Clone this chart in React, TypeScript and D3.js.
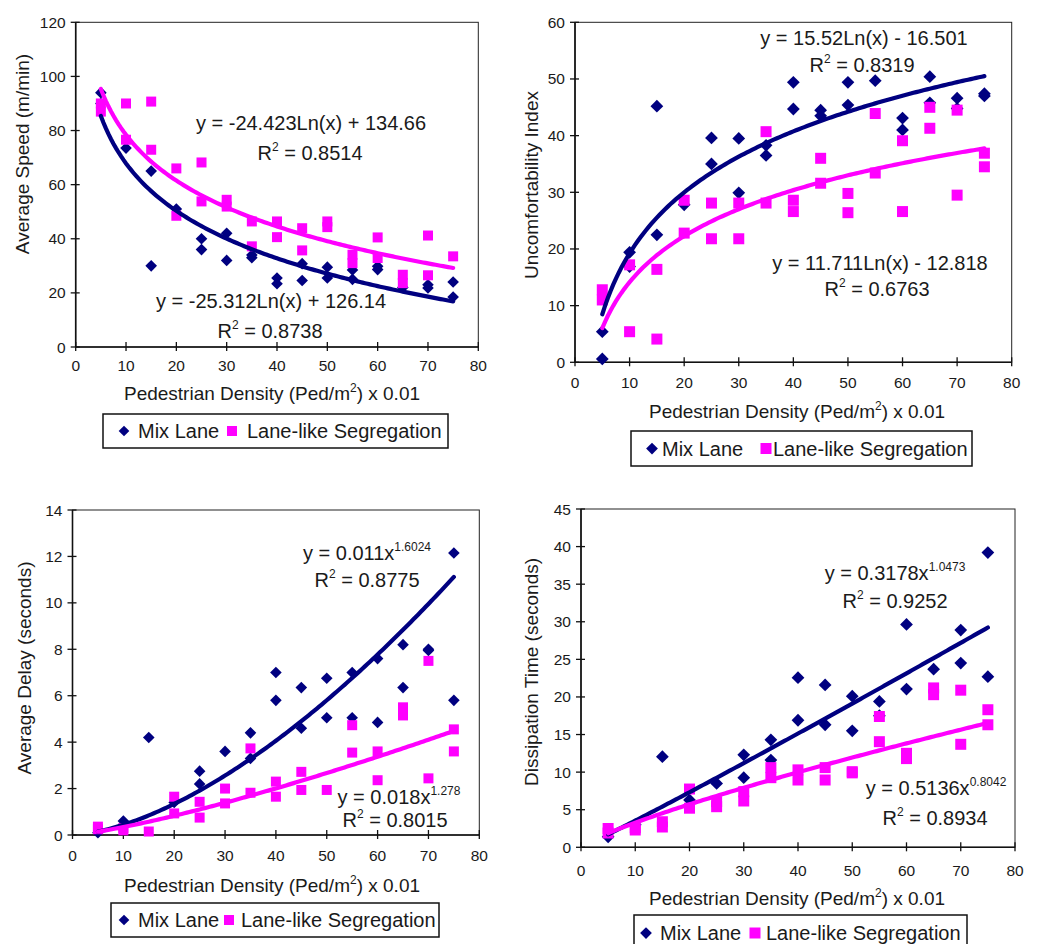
import React from "react";
import * as d3 from "d3";

type Pt = [number, number];

const densityTicks = [0, 10, 20, 30, 40, 50, 60, 70, 80];
const seriesNames = ["Mix Lane", "Lane-like Segregation"];

// Panel 1: Average speed
const speedTicks = [0, 20, 40, 60, 80, 100, 120];
const speedMix: Pt[] = [[5,94],[5,90],[10,73.5],[15,65],[15,30],[20,51],[25,40],[25,36],[30,42],[30,32],[35,34],[35,33],[40,25.5],[40,23.4],[45,30.8],[45,24.6],[50,29.5],[50,25.5],[55,28.5],[55,25],[60,29.8],[60,28.6],[65,22],[70,23],[70,21.8],[75,24],[75,18.5]];
const speedSeg: Pt[] = [[5,90],[5,87],[10,90],[10,76.6],[15,90.7],[15,72.9],[20,66],[20,48.5],[25,68.2],[25,53.8],[30,54.4],[30,51.9],[35,46.4],[35,37.2],[40,46.4],[40,40.6],[45,43.9],[45,35.7],[50,46.4],[50,44.3],[55,34.1],[55,31],[60,40.5],[60,32.9],[65,26.7],[65,23.6],[70,41.2],[70,26.5],[75,33.5]];
const speedMixFit = { kind: "log", a: -25.312, b: 126.14, eq: "y = -25.312Ln(x) + 126.14", r2: "0.8738" };
const speedSegFit = { kind: "log", a: -24.423, b: 134.66, eq: "y = -24.423Ln(x) + 134.66", r2: "0.8514" };

// Panel 2: Uncomfortability index
const comfortTicks = [0, 10, 20, 30, 40, 50, 60];
const comfortMix: Pt[] = [[5,5.4],[5,0.6],[10,19.4],[10,16.9],[15,45.2],[15,22.5],[20,27.8],[25,39.6],[25,35],[30,39.5],[30,29.9],[35,38.3],[35,36.5],[40,49.4],[40,44.7],[45,44.5],[45,43.5],[50,49.4],[50,45.4],[55,49.7],[60,43.1],[60,41],[65,50.4],[65,45.8],[70,46.6],[70,44.8],[75,47.4],[75,47]];
const comfortSeg: Pt[] = [[5,12.8],[5,11],[10,5.4],[10,17.2],[15,4.1],[15,16.4],[20,28.6],[20,22.8],[25,28.1],[25,21.8],[30,28.1],[30,21.8],[35,40.7],[35,28.1],[40,28.6],[40,26.6],[45,36],[45,31.6],[50,29.8],[50,26.4],[55,43.9],[55,33.4],[60,39.1],[60,26.6],[65,45],[65,41.3],[70,44.5],[70,29.5],[75,36.9],[75,34.5]];
const comfortMixFit = { kind: "log", a: 15.52, b: -16.501, eq: "y = 15.52Ln(x) - 16.501", r2: "0.8319" };
const comfortSegFit = { kind: "log", a: 11.711, b: -12.818, eq: "y = 11.711Ln(x) - 12.818", r2: "0.6763" };

// Panel 3: Average delay
const delayTicks = [0, 2, 4, 6, 8, 10, 12, 14];
const delayMix: Pt[] = [[5,0.1],[10,0.6],[15,4.2],[20,1.4],[25,2.75],[25,2.2],[30,3.6],[35,4.4],[35,3.3],[40,7],[40,5.8],[45,6.35],[45,4.6],[50,6.75],[50,5.05],[55,7],[55,5.05],[60,7.6],[60,4.85],[65,8.2],[65,6.35],[70,8],[70,7.95],[75,12.15],[75,5.8]];
const delaySeg: Pt[] = [[5,0.36],[5,0.25],[10,0.3],[10,0.2],[15,0.15],[20,1.65],[20,0.93],[25,1.43],[25,0.75],[30,2],[30,1.36],[35,3.73],[35,1.82],[40,2.3],[40,1.65],[45,2.72],[45,1.94],[50,1.94],[55,4.73],[55,3.55],[60,3.6],[60,2.36],[65,5.5],[65,5.15],[70,7.5],[70,2.44],[75,4.55],[75,3.6]];
const delayMixFit = { kind: "pow", a: 0.011, b: 1.6024, eq: "y = 0.011x", exp: "1.6024", r2: "0.8775" };
const delaySegFit = { kind: "pow", a: 0.018, b: 1.278, eq: "y = 0.018x", exp: "1.278", r2: "0.8015" };

// Panel 4: Dissipation time
const dissTicks = [0, 5, 10, 15, 20, 25, 30, 35, 40, 45];
const dissMix: Pt[] = [[5,1.4],[10,3],[15,12.06],[20,6.3],[25,8.5],[30,12.3],[30,9.26],[35,14.3],[35,11.6],[40,22.56],[40,16.9],[45,21.6],[45,16.3],[50,20.1],[50,15.5],[55,19.4],[55,17.5],[60,29.65],[60,21.05],[65,23.7],[70,28.9],[70,24.5],[75,39.2],[75,22.7]];
const dissSeg: Pt[] = [[5,2.5],[5,1.9],[10,2.6],[10,2.3],[15,3.4],[15,2.7],[20,7.75],[20,5.2],[25,6.07],[25,5.4],[30,7.4],[30,6.16],[35,10.6],[35,9.26],[40,10.3],[40,8.95],[45,10.6],[45,8.95],[50,10.06],[50,9.9],[55,17.4],[55,14.05],[60,12.5],[60,11.8],[65,21.2],[65,20.3],[70,20.9],[70,13.7],[75,18.3],[75,16.3]];
const dissMixFit = { kind: "pow", a: 0.3178, b: 1.0473, eq: "y = 0.3178x", exp: "1.0473", r2: "0.9252" };
const dissSegFit = { kind: "pow", a: 0.5136, b: 0.8042, eq: "y = 0.5136x", exp: "0.8042", r2: "0.8934" };

const NAVY = "#000080";
const MAGENTA = "#FF00FF";
const FONT = "'Liberation Sans', Arial, Helvetica, sans-serif";
const TEXT = "#1a1a1a";

type Fit = { kind: string; a: number; b: number; eq: string; exp?: string; r2: string };

type Layout = {
  x0: number; x1: number; yB: number; yT: number;
  yMax: number; yTicks: number[]; yTitle: string;
  mix: Pt[]; seg: Pt[]; mixFit: Fit; segFit: Fit;
  yTitlePos: [number, number]; xTitlePos: [number, number]; xTickY: number;
  legend: { x: number; y: number; w: number; h: number; d: number; t1: number; s: number; t2: number };
  mixLabel: [number, number, number, number];
  segLabel: [number, number, number, number];
  marker: number;
};

const panels: Layout[] = [
  {
    x0: 75.7, x1: 478.3, yB: 347, yT: 22.3, yMax: 120, yTicks: speedTicks, yTitle: "Average Speed (m/min)",
    mix: speedMix, seg: speedSeg, mixFit: speedMixFit, segFit: speedSegFit,
    yTitlePos: [22, 154], xTitlePos: [272, 400], xTickY: 371,
    legend: { x: 103, y: 414, w: 345, h: 34, d: 21, t1: 35, s: 129, t2: 144 },
    segLabel: [311, 130, 310, 160], mixLabel: [271, 308, 270, 338], marker: 10,
  },
  {
    x0: 575, x1: 1011.7, yB: 362.3, yT: 22.3, yMax: 60, yTicks: comfortTicks, yTitle: "Uncomfortability Index",
    mix: comfortMix, seg: comfortSeg, mixFit: comfortMixFit, segFit: comfortSegFit,
    yTitlePos: [531, 185], xTitlePos: [797, 418], xTickY: 388,
    legend: { x: 631, y: 431, w: 341, h: 35, d: 21, t1: 31, s: 135, t2: 142 },
    mixLabel: [864, 45, 862, 72], segLabel: [880, 270, 877, 296], marker: 11,
  },
  {
    x0: 72.5, x1: 479.3, yB: 835, yT: 510, yMax: 14, yTicks: delayTicks, yTitle: "Average Delay (seconds)",
    mix: delayMix, seg: delaySeg, mixFit: delayMixFit, segFit: delaySegFit,
    yTitlePos: [24, 668], xTitlePos: [272, 892], xTickY: 861,
    legend: { x: 111, y: 903, w: 328, h: 34, d: 13, t1: 27, s: 118, t2: 130 },
    mixLabel: [367, 560, 367, 587], segLabel: [399, 804, 395, 827], marker: 10,
  },
  {
    x0: 581, x1: 1015, yB: 847.3, yT: 509, yMax: 45, yTicks: dissTicks, yTitle: "Dissipation Time (seconds)",
    mix: dissMix, seg: dissSeg, mixFit: dissMixFit, segFit: dissSegFit,
    yTitlePos: [531, 672], xTitlePos: [797, 905], xTickY: 876,
    legend: { x: 634, y: 915, w: 333, h: 36, d: 12, t1: 26, s: 121, t2: 132 },
    mixLabel: [895, 580, 895, 608], segLabel: [936, 795, 935, 825], marker: 11,
  },
];

function fitValue(f: Fit, x: number) {
  return f.kind === "log" ? f.a * Math.log(x) + f.b : f.a * Math.pow(x, f.b);
}

const diamondPath = (s: number) => d3.symbol(d3.symbolDiamond2, s * s * 0.55)() || "";
const squarePath = (s: number) => d3.symbol(d3.symbolSquare, s * s)() || "";

function EqLabel({ fit, cx, y, cx2, y2 }: { fit: Fit; cx: number; y: number; cx2: number; y2: number }) {
  return (
    <g fontFamily={FONT} fill={TEXT}>
      <text x={cx} y={y} textAnchor="middle" fontSize={20}>
        <tspan>{fit.eq}</tspan>
        {fit.exp ? <tspan dy={-9} fontSize={12}>{fit.exp}</tspan> : null}
      </text>
      <text x={cx2} y={y2} textAnchor="middle" fontSize={20}>
        <tspan>R</tspan>
        <tspan dy={-9} fontSize={12}>2</tspan>
        <tspan dy={9}> = {fit.r2}</tspan>
      </text>
    </g>
  );
}

function Panel({ p }: { p: Layout }) {
  const x = d3.scaleLinear().domain([0, 80]).range([p.x0, p.x1]);
  const y = d3.scaleLinear().domain([0, p.yMax]).range([p.yB, p.yT]);
  const xs = d3.range(5, 75.01, 0.5);
  const mkLine = (f: Fit) =>
    d3.line<number>().x((v) => x(v)).y((v) => y(fitValue(f, v)))(xs) || "";
  const m = p.marker;
  const L = p.legend;
  return (
    <g>
      <rect x={p.x0} y={p.yT} width={p.x1 - p.x0} height={p.yB - p.yT} fill="white" stroke="#222" strokeWidth={1} />
      <line x1={p.x0} x2={p.x0} y1={p.yT} y2={p.yB} stroke="#111" strokeWidth={1.6} />
      <line x1={p.x0} x2={p.x1} y1={p.yB} y2={p.yB} stroke="#111" strokeWidth={1.6} />
      {p.yTicks.map((t) => (
        <g key={"y" + t}>
          <line x1={p.x0 - 5} x2={p.x0 + 4} y1={y(t)} y2={y(t)} stroke="#111" strokeWidth={1.3} />
          <text x={p.x0 - 10} y={y(t) + 5.5} textAnchor="end" fontSize={15.5} fontFamily={FONT} fill={TEXT}>{t}</text>
        </g>
      ))}
      {densityTicks.map((t) => (
        <g key={"x" + t}>
          <line x1={x(t)} x2={x(t)} y1={p.yB - 5} y2={p.yB + 4} stroke="#111" strokeWidth={1.3} />
          <text x={x(t)} y={p.xTickY} textAnchor="middle" fontSize={15.5} fontFamily={FONT} fill={TEXT}>{t}</text>
        </g>
      ))}
      {p.mix.map((d, i) => (
        <path key={"m" + i} d={diamondPath(m * 1.25)} transform={`translate(${x(d[0])},${y(d[1])})`} fill={NAVY} />
      ))}
      {p.seg.map((d, i) => (
        <path key={"s" + i} d={squarePath(m)} transform={`translate(${x(d[0])},${y(d[1])})`} fill={MAGENTA} />
      ))}
      <path d={mkLine(p.mixFit)} fill="none" stroke={NAVY} strokeWidth={4.2} strokeLinecap="round" />
      <path d={mkLine(p.segFit)} fill="none" stroke={MAGENTA} strokeWidth={4.2} strokeLinecap="round" />
      <EqLabel fit={p.mixFit} cx={p.mixLabel[0]} y={p.mixLabel[1]} cx2={p.mixLabel[2]} y2={p.mixLabel[3]} />
      <EqLabel fit={p.segFit} cx={p.segLabel[0]} y={p.segLabel[1]} cx2={p.segLabel[2]} y2={p.segLabel[3]} />
      <text transform={`translate(${p.yTitlePos[0]},${p.yTitlePos[1]}) rotate(-90)`} textAnchor="middle" dy={7} fontSize={19} fontFamily={FONT} fill={TEXT}>
        {p.yTitle}
      </text>
      <text x={p.xTitlePos[0]} y={p.xTitlePos[1]} textAnchor="middle" fontSize={19} fontFamily={FONT} fill={TEXT}>
        <tspan>Pedestrian Density (Ped/m</tspan>
        <tspan dy={-8} fontSize={12}>2</tspan>
        <tspan dy={8}>) x 0.01</tspan>
      </text>
      <rect x={L.x} y={L.y} width={L.w} height={L.h} fill="white" stroke="#111" strokeWidth={1.5} />
      <path d={diamondPath(m * 1.15)} transform={`translate(${L.x + L.d},${L.y + L.h / 2})`} fill={NAVY} />
      <text x={L.x + L.t1} y={L.y + L.h / 2 + 7} fontSize={20} fontFamily={FONT} fill={TEXT}>{seriesNames[0]}</text>
      <path d={squarePath(m)} transform={`translate(${L.x + L.s},${L.y + L.h / 2})`} fill={MAGENTA} />
      <text x={L.x + L.t2} y={L.y + L.h / 2 + 7} fontSize={20} fontFamily={FONT} fill={TEXT}>{seriesNames[1]}</text>
    </g>
  );
}

export default function App() {
  return (
    <svg width={1037} height={944} viewBox="0 0 1037 944" style={{ position: "absolute", left: 0, top: 0, background: "white" }}>
      <rect x={0} y={0} width={1037} height={944} fill="white" />
      {panels.map((p, i) => (
        <Panel key={i} p={p} />
      ))}
    </svg>
  );
}
